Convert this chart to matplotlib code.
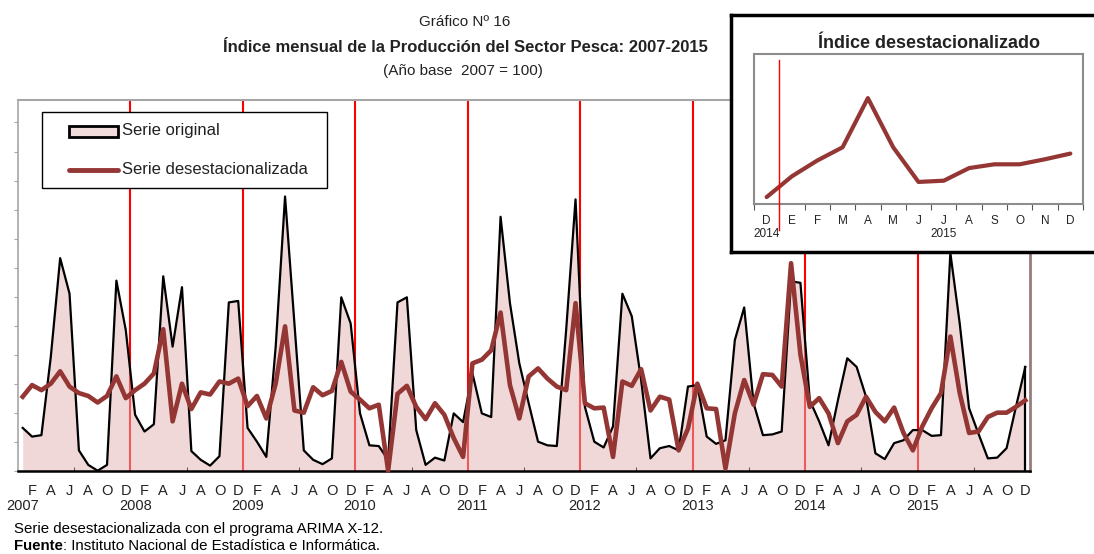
import matplotlib
matplotlib.use('Agg')
import matplotlib.pyplot as plt
from matplotlib.patches import Rectangle
from matplotlib.lines import Line2D
from matplotlib.transforms import blended_transform_factory
import numpy as np

# Índice mensual 2007-2015 (ene 2007 .. dic 2015)
original = [59, 47, 49, 157, 293, 244, 28, 8, 0, 8, 262, 194,
            77, 54, 64, 268, 171, 253, 27, 15, 7, 20, 232, 234,
            59, 40, 19, 171, 378, 203, 28, 15, 9, 17, 239, 203,
            79, 35, 34, 15, 232, 239, 56, 8, 18, 14, 79, 67,
            134, 79, 74, 350, 231, 148, 93, 40, 35, 34, 194, 374,
            88, 40, 32, 61, 244, 213, 125, 17, 31, 34, 28, 116,
            118, 47, 37, 42, 180, 225, 93, 49, 50, 54, 261, 259,
            97, 68, 35, 97, 155, 143, 102, 24, 16, 38, 42, 56,
            56, 48, 49, 300, 203, 86, 51, 17, 18, 31, 88, 143]
desest = [102, 118, 111, 120, 137, 116, 107, 103, 94, 103, 130, 100,
          111, 120, 134, 195, 68, 120, 85, 108, 105, 123, 120, 127,
          89, 103, 72, 120, 199, 83, 80, 115, 104, 110, 150, 109,
          98, 86, 91, 0, 106, 117, 88, 71, 93, 77, 45, 19,
          148, 153, 166, 218, 118, 72, 130, 141, 127, 116, 111, 231,
          93, 86, 87, 19, 123, 117, 140, 83, 102, 98, 28, 58,
          120, 86, 85, 3, 79, 125, 91, 133, 132, 116, 286, 160,
          88, 100, 79, 38, 68, 77, 102, 81, 68, 87, 52, 28,
          61, 86, 107, 185, 107, 52, 54, 74, 80, 80, 88, 97]
month_letters = ['F', 'A', 'J', 'A', 'O', 'D']
years = list(range(2007, 2016))
inset_months = ['D', 'E', 'F', 'M', 'A', 'M', 'J', 'J', 'A', 'S', 'O', 'N', 'D']
inset_years = {0: '2014', 7: '2015'}

NARROW = ['Liberation Sans Narrow', 'Liberation Sans', 'DejaVu Sans']
ARIAL = ['Liberation Sans', 'DejaVu Sans']
BROWN = '#943634'
PINK = '#e3b3b2'

W, H = 1094, 554
fig = plt.figure(figsize=(W / 100, H / 100), dpi=100)


def fx(px):
    return px / W


def fy(py):
    return 1 - py / H


# grafico principal
ax = fig.add_axes([fx(18), fy(470.7), fx(1030) - fx(18), fy(100) - fy(470.7)])
x = np.arange(len(original))
for k in range(1, len(years)):
    ax.axvline(12 * k - 0.5, color='#ff0000', lw=1.5, zorder=1)
ax.fill_between(x, original, 0, color=PINK, alpha=0.5, lw=0, zorder=2)
ax.plot(x, original, color='black', lw=1.6, zorder=3)
ax.plot([x[-1], x[-1]], [0, original[-1]], color='black', lw=1.6, zorder=3)
ax.plot(x, desest, color=BROWN, lw=3.3, zorder=4, clip_on=False)

ax.set_xlim(-0.5, len(original) - 0.5)
ax.set_ylim(0, 511)
ax.spines['top'].set_color('#a6a6a6')
ax.spines['top'].set_linewidth(1.5)
ax.spines['left'].set_color('#a6a6a6')
ax.spines['left'].set_linewidth(1.2)
ax.spines['bottom'].set_color('black')
ax.spines['bottom'].set_linewidth(1.8)
ax.spines['right'].set_color('#9c7a7a')
ax.spines['right'].set_linewidth(2)
ax.set_yticks(np.arange(0, 481, 40))
ax.tick_params(axis='y', direction='out', length=3, color='#a6a6a6', labelleft=False)
ax.set_xticks(np.arange(5.5, len(original), 12))
ax.tick_params(axis='x', direction='in', length=3, color='black', labelbottom=False)

trans = blended_transform_factory(ax.transData, ax.transAxes)
for i in range(1, len(original), 2):
    ax.text(i, -0.035, month_letters[(i // 2) % 6], transform=trans, ha='center',
            va='top', fontsize=10.5, family=NARROW, color='#222222')
for k, yr in enumerate(years):
    ax.text(12 * k, -0.077, str(yr), transform=trans, ha='center', va='top',
            fontsize=10.5, family=NARROW, color='#222222')


# leyenda
def axx(px):
    return (px - 18) / 1012


def axy(py):
    return (470.7 - py) / 370.7


ax.add_patch(Rectangle((axx(42), axy(188)), axx(327) - axx(42), axy(112) - axy(188),
                       transform=ax.transAxes, facecolor='white', edgecolor='black',
                       lw=1, zorder=6))
ax.add_patch(Rectangle((axx(69), axy(137)), axx(118) - axx(69), axy(126) - axy(137),
                       transform=ax.transAxes, facecolor='#f2dcdb', edgecolor='black',
                       lw=2, zorder=7))
ax.add_line(Line2D([axx(69), axx(118)], [axy(170), axy(170)], transform=ax.transAxes,
                   color=BROWN, lw=3.5, zorder=7, solid_capstyle='round'))
ax.text(axx(122), axy(131), 'Serie original', transform=ax.transAxes, va='center',
        ha='left', fontsize=12, family=NARROW, color='#222222', zorder=7)
ax.text(axx(122), axy(170), 'Serie desestacionalizada', transform=ax.transAxes,
        va='center', ha='left', fontsize=12, family=NARROW, color='#222222', zorder=7)

# titulos
fig.text(fx(465), fy(22), 'Gráfico Nº 16', ha='center', va='center', fontsize=11,
         family=NARROW, color='#222222')
fig.text(fx(465), fy(47), 'Índice mensual de la Producción del Sector Pesca: 2007-2015',
         ha='center', va='center', fontsize=12, fontweight='bold', family=NARROW,
         color='#222222')
fig.text(fx(463), fy(71), '(Año base  2007 = 100)', ha='center', va='center',
         fontsize=11, family=NARROW, color='#222222')

# notas
fig.text(fx(14), fy(529), 'Serie desestacionalizada con el programa ARIMA X-12.',
         ha='left', va='center', fontsize=10.8, family=ARIAL)
t_fuente = fig.text(fx(14), fy(546), 'Fuente', ha='left', va='center', fontsize=10.8,
                    family=ARIAL, fontweight='bold')
ax.annotate(': Instituto Nacional de Estadística e Informática.', xy=(1, 0.5),
            xycoords=t_fuente, ha='left', va='center', fontsize=10.8, family=ARIAL,
            annotation_clip=False)

# recuadro del indice desestacionalizado
box = fig.add_axes([fx(731), fy(252), fx(1110) - fx(731), fy(15) - fy(252)], zorder=5)
box.set_facecolor('white')
box.set_xticks([])
box.set_yticks([])
for s in box.spines.values():
    s.set_color('black')
    s.set_linewidth(2.5)

ins = fig.add_axes([fx(754), fy(204), fx(1083) - fx(754), fy(54) - fy(204)], zorder=6)
ins_vals = desest[-len(inset_months):]
xi = np.arange(len(inset_months))
ins.plot(xi, ins_vals, color=BROWN, lw=3, solid_capstyle='round', zorder=3)
ins.set_xlim(-0.5, len(inset_months) - 0.5)
ins.set_ylim(17, 255)
for s in ins.spines.values():
    s.set_color('#8c8c8c')
    s.set_linewidth(1.5)
ins.set_xticks(np.arange(-0.5, len(inset_months), 1))
ins.tick_params(axis='x', direction='out', length=4, color='#555555', labelbottom=False)
ins.set_yticks([])
itrans = blended_transform_factory(ins.transData, ins.transAxes)
ins.add_line(Line2D([0.5, 0.5], [0.96, -0.175], transform=itrans, color='#ff0000',
                    lw=1, clip_on=False, zorder=4))
for i, m in enumerate(inset_months):
    ins.text(i, -0.075, m, transform=itrans, ha='center', va='top', fontsize=8.5,
             family=ARIAL, color='#222222')
for i, yr in inset_years.items():
    ins.text(i, -0.16, yr, transform=itrans, ha='center', va='top', fontsize=8.5,
             family=ARIAL, color='#222222')
fig.text(fx(929), fy(43), 'Índice desestacionalizado', ha='center', va='center',
         fontsize=13, fontweight='bold', family=NARROW, color='#222222', zorder=7)

fig.savefig('out.png', dpi=100)
